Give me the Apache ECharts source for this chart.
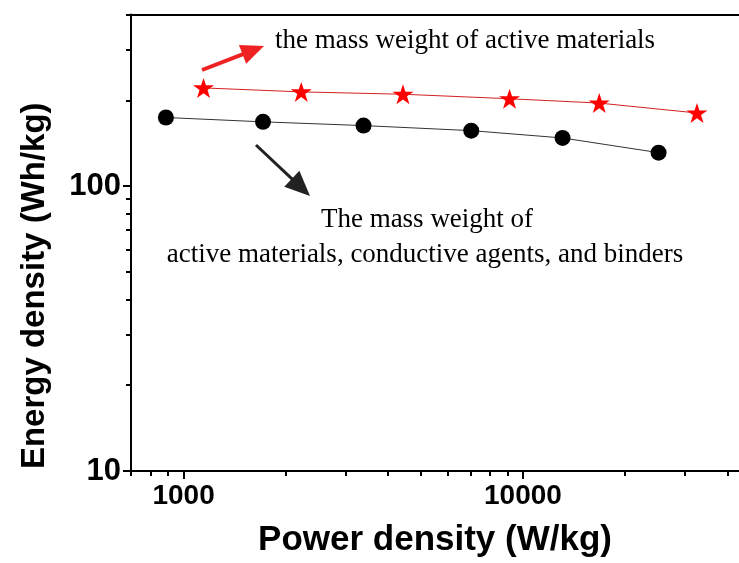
<!DOCTYPE html>
<html>
<head>
<meta charset="utf-8">
<script src="https://cdn.jsdelivr.net/npm/echarts@6/dist/echarts.min.js"></script>
<style>
html,body{margin:0;padding:0;background:#fff;}
#chart{width:739px;height:563px;}
</style>
</head>
<body>
<div id="chart"></div>
<script>
// ---- data ----
var blackPower = [887, 1714, 3390, 7040, 13080, 25090];
var blackEnergy = [174, 168, 163, 156.5, 147.5, 131];
var redPower = [1145, 2222, 4430, 9130, 16780, 32560];
var redEnergy = [221, 214, 210, 202.5, 195.5, 180.5];
var xMajorTicks = [1000, 10000];
var yMajorTicks = [10, 100];
var xMinorTicks = [700, 800, 900, 2000, 3000, 4000, 5000, 6000, 7000, 8000, 9000, 20000, 30000, 40000];
var yMinorTicks = [20, 30, 40, 50, 60, 70, 80, 90, 200, 300, 400];
var xRange = [700, 43300];
var yRange = [10, 400];

var chart = echarts.init(document.getElementById('chart'));
var SANS = '"Liberation Sans", Arial, sans-serif';
var SERIF = '"Liberation Serif", "Times New Roman", serif';

function zip(a, b) { return a.map(function (v, i) { return [v, b[i]]; }); }
function plain(v) { return String(Math.round(v)); }

function arrow(tail, tip, color, shaftW, headL, headHW) {
  var dx = tip[0] - tail[0], dy = tip[1] - tail[1];
  var len = Math.sqrt(dx * dx + dy * dy);
  var ux = dx / len, uy = dy / len, nx = -uy, ny = ux;
  var bx = tip[0] - ux * headL, by = tip[1] - uy * headL;
  return [
    { type: 'line', shape: { x1: tail[0], y1: tail[1], x2: bx + ux * 2, y2: by + uy * 2 },
      style: { stroke: color, lineWidth: shaftW }, silent: true },
    { type: 'polygon', shape: { points: [[tip[0], tip[1]], [bx + nx * headHW, by + ny * headHW], [bx - nx * headHW, by - ny * headHW]] },
      style: { fill: color }, silent: true }
  ];
}

var starPath = 'path://M50,0 L61.8,35.4 L100,35.4 L69.1,57.3 L80.9,95.1 L50,72.4 L19.1,95.1 L30.9,57.3 L0,35.4 L38.2,35.4 Z';

function logAxisBase(range) {
  return { type: 'log', logBase: 10, min: range[0], max: range[1], splitLine: { show: false } };
}

var option = {
  animation: false,
  backgroundColor: '#fff',
  grid: { left: 131, right: 0, top: 14.5, bottom: 92 },
  xAxis: [
    Object.assign(logAxisBase(xRange), {
      position: 'bottom',
      name: 'Power density (W/kg)', nameLocation: 'middle', nameGap: 52,
      nameTextStyle: { fontFamily: SANS, fontWeight: 'bold', fontSize: 35, color: '#000' },
      axisLine: { lineStyle: { color: '#000', width: 2 } },
      axisTick: { length: 8, customValues: xMajorTicks, lineStyle: { color: '#000', width: 2 } },
      axisLabel: { margin: 11, customValues: xMajorTicks, formatter: plain,
        fontFamily: SANS, fontWeight: 'bold', fontSize: 28, color: '#000' }
    }),
    Object.assign(logAxisBase(xRange), {
      position: 'bottom',
      axisLine: { show: false },
      axisTick: { length: 5, customValues: xMinorTicks, lineStyle: { color: '#000', width: 2 } },
      axisLabel: { show: false }
    }),
    Object.assign(logAxisBase(xRange), {
      position: 'top',
      axisLine: { lineStyle: { color: '#000', width: 2 } },
      axisTick: { show: false }, axisLabel: { show: false }
    })
  ],
  yAxis: [
    Object.assign(logAxisBase(yRange), {
      position: 'left',
      name: 'Energy density (Wh/kg)', nameLocation: 'middle', nameGap: 80,
      nameTextStyle: { fontFamily: SANS, fontWeight: 'bold', fontSize: 33, color: '#000', padding: [0, 86, 0, 0] },
      axisLine: { lineStyle: { color: '#000', width: 2 } },
      axisTick: { length: 8, customValues: yMajorTicks, lineStyle: { color: '#000', width: 2 } },
      axisLabel: { margin: 10, customValues: yMajorTicks, formatter: plain,
        fontFamily: SANS, fontWeight: 'bold', fontSize: 31, color: '#000' }
    }),
    Object.assign(logAxisBase(yRange), {
      position: 'left',
      axisLine: { show: false },
      axisTick: { length: 5, customValues: yMinorTicks, lineStyle: { color: '#000', width: 2 } },
      axisLabel: { show: false }
    })
  ],
  series: [{
    name: 'active materials, conductive agents, and binders',
    type: 'line', data: zip(blackPower, blackEnergy),
    symbol: 'circle', symbolSize: 16,
    itemStyle: { color: '#000' },
    lineStyle: { color: '#333', width: 1 }
  }, {
    name: 'active materials',
    type: 'line', data: zip(redPower, redEnergy),
    symbol: starPath, symbolSize: 21, symbolKeepAspect: true,
    itemStyle: { color: '#ff0000' },
    lineStyle: { color: '#d42020', width: 1 }
  }],
  graphic: [].concat(
    arrow([202, 70], [264, 46], '#ee2222', 4, 23, 10),
    arrow([256, 145], [310, 196], '#222', 3, 25, 11),
    [
      { type: 'text', left: 275, top: 27, silent: true,
        style: { text: 'the mass weight of active materials', font: '27px ' + SERIF, fill: '#000' } },
      { type: 'text', x: 427, y: 220, silent: true,
        style: { text: 'The mass weight of', font: '27px ' + SERIF, fill: '#000', align: 'center', verticalAlign: 'middle' } },
      { type: 'text', x: 425, y: 255, silent: true,
        style: { text: 'active materials, conductive agents, and binders', font: '27px ' + SERIF, fill: '#000', align: 'center', verticalAlign: 'middle' } }
    ]
  )
};
chart.setOption(option);
</script>
</body>
</html>
